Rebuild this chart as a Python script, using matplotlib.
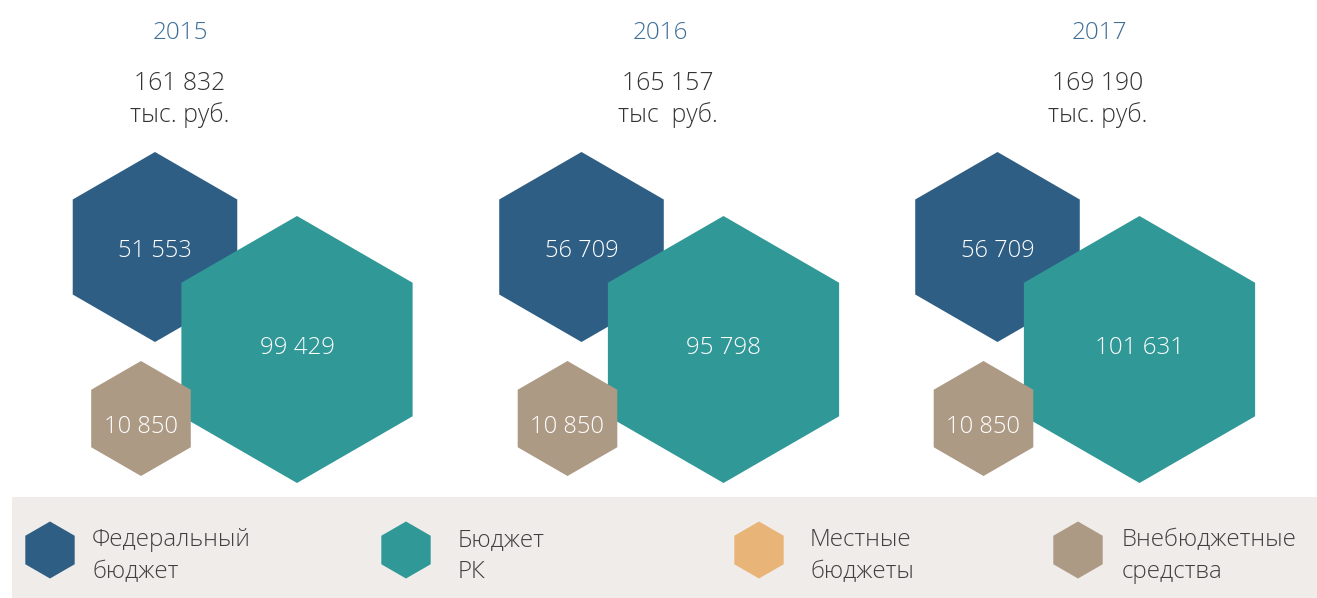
import matplotlib.pyplot as plt
from matplotlib.patches import RegularPolygon, Rectangle

# data
years = ["2015", "2016", "2017"]
totals = ["161 832", "165 157", "169 190"]
units = ["тыс. руб.", "тыс  руб.", "тыс. руб."]
federal = ["51 553", "56 709", "56 709"]
budget_rk = ["99 429", "95 798", "101 631"]
extra = ["10 850", "10 850", "10 850"]
legend_labels = ["Федеральный\nбюджет", "Бюджет\nРК", "Местные\nбюджеты", "Внебюджетные\nсредства"]

# style
C_FED = "#2e5e84"
C_RK = "#309896"
C_LOC = "#e9b478"
C_EXT = "#ac9a85"
FONT = ["Open Sans", "DejaVu Sans"]

W, H = 1317, 598
fig = plt.figure(figsize=(W / 100, H / 100), dpi=100)
ax = fig.add_axes([0, 0, 1, 1])
ax.set_xlim(0, W)
ax.set_ylim(H, 0)
ax.axis("off")

# layout (pixel units)
group_x = [155, 581.5, 997.5]
year_x = [180, 660, 1099]
total_x = [180, 668, 1098]


def hexagon(x, y, r, color, z):
    ax.add_patch(RegularPolygon((x, y), 6, radius=r, facecolor=color,
                                edgecolor="none", zorder=z))


def label(x, y, s, color, size=17, **kw):
    ax.text(x, y, s, ha=kw.pop("ha", "center"), va="center", fontsize=size,
            color=color, family=FONT, fontweight="light", zorder=5, **kw)


for i, gx in enumerate(group_x):
    label(year_x[i], 33, years[i], "#3f6e96", size=17.5)
    label(total_x[i], 83, totals[i], "#333333", size=17.8)
    label(total_x[i], 115, units[i], "#333333", size=17.8)

    hexagon(gx, 247, 95, C_FED, 1)
    hexagon(gx + 142, 349.5, 133.5, C_RK, 2)
    hexagon(gx - 14, 418.5, 57.5, C_EXT, 3)

    label(gx, 251, federal[i], "white")
    label(gx + 142, 348, budget_rk[i], "white", size=17.4)
    label(gx - 14, 427, extra[i], "white")

# legend band
ax.add_patch(Rectangle((12, 497), W - 12, H - 497, facecolor="#f0ece9",
                       edgecolor="none", zorder=0))
leg_x = [50, 406, 759, 1078]
leg_text_x = [92, 458, 810, 1122]
leg_colors = [C_FED, C_RK, C_LOC, C_EXT]
for lx, tx, lc, lab in zip(leg_x, leg_text_x, leg_colors, legend_labels):
    hexagon(lx, 550, 28.5, lc, 1)
    label(tx, 556, lab, "#404040", size=17.4, ha="left", linespacing=1.48)

fig.savefig("out.png", dpi=100)
